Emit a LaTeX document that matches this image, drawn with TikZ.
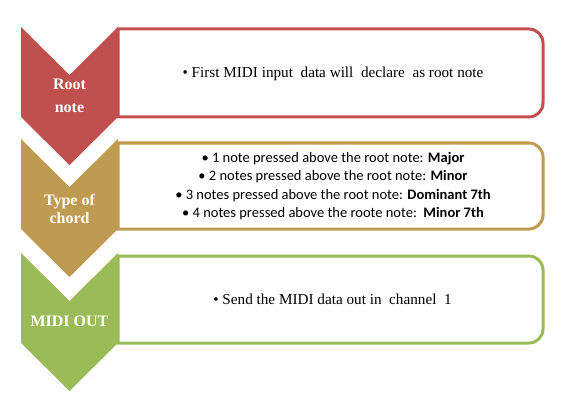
\documentclass[tikz,border=0pt]{standalone}
\usepackage{fontspec}
\setmainfont{Liberation Serif}
\newfontfamily\calibrifont{Carlito}
\definecolor{rootred}{HTML}{C0504D}
\definecolor{chordgold}{RGB}{191,155,82}
\definecolor{outgreen}{HTML}{9BBB59}
\tikzset{
  chevlabel/.style={text=white, font=\bfseries\fontsize{16}{18}\selectfont, align=center},
  boxtext/.style={font=\fontsize{15.2}{18}\selectfont, align=center},
}
% chevron: colour, top y
\def\chevron[#1](#2){\fill[#1] (21,#2) -- (69.5,#2+48) -- (118,#2) -- (118,#2+90) -- (69.5,#2+138) -- (21,#2+90) -- cycle;}
% box: colour, top y, bottom y
\def\stepbox[#1](#2:#3){\draw[line width=3pt, draw=#1, fill=white] (118,#2) -- (529,#2) arc[start angle=90, end angle=0, radius=14pt] -- (543,#3-14) arc[start angle=0, end angle=-90, radius=14pt] -- (118,#3) -- cycle;}

\begin{document}
\begin{tikzpicture}[x=1pt, y=-1pt]
		%%%%% START %%%%%
		\useasboundingbox (0,0) rectangle (578,401);
		
		\stepbox[rootred](29:117)
		\chevron[rootred](27)
		\node[chevlabel] (rootlabel) at (69.5, 96) {Root\\[5pt]note};
		\node[boxtext] (roottext) at (333, 73.5) {\textbullet\ First MIDI input\ \ data will\ \ declare\ \ as root note};
		
		\stepbox[chordgold](143:229)
		\chevron[chordgold](139)
		\node[chevlabel] (chordlabel) at (69.5, 209) {Type of\\chord};
		\node[boxtext, font=\calibrifont\fontsize{14.5}{18.3}\selectfont] (chordtext) at (333, 186) {%
			\textbullet\ 1 note pressed above the root note: \textbf{Major}\\
			\textbullet\ 2 notes pressed above the root note: \textbf{Minor}\\
			\textbullet\ 3 notes pressed above the root note: \textbf{Dominant 7th}\\
			\textbullet\ 4 notes pressed above the roote note:\ \ \textbf{Minor 7th}};
		
		\stepbox[outgreen](256:343)
		\chevron[outgreen](253)
		\node[chevlabel] (outlabel) at (69.5, 321.5) {MIDI OUT};
		\node[boxtext] (outtext) at (332.5, 299) {\textbullet\ Send the MIDI data out in\ \ channel\ \ 1};
		
		%%%%% END %%%%%
\end{tikzpicture}
\end{document}
